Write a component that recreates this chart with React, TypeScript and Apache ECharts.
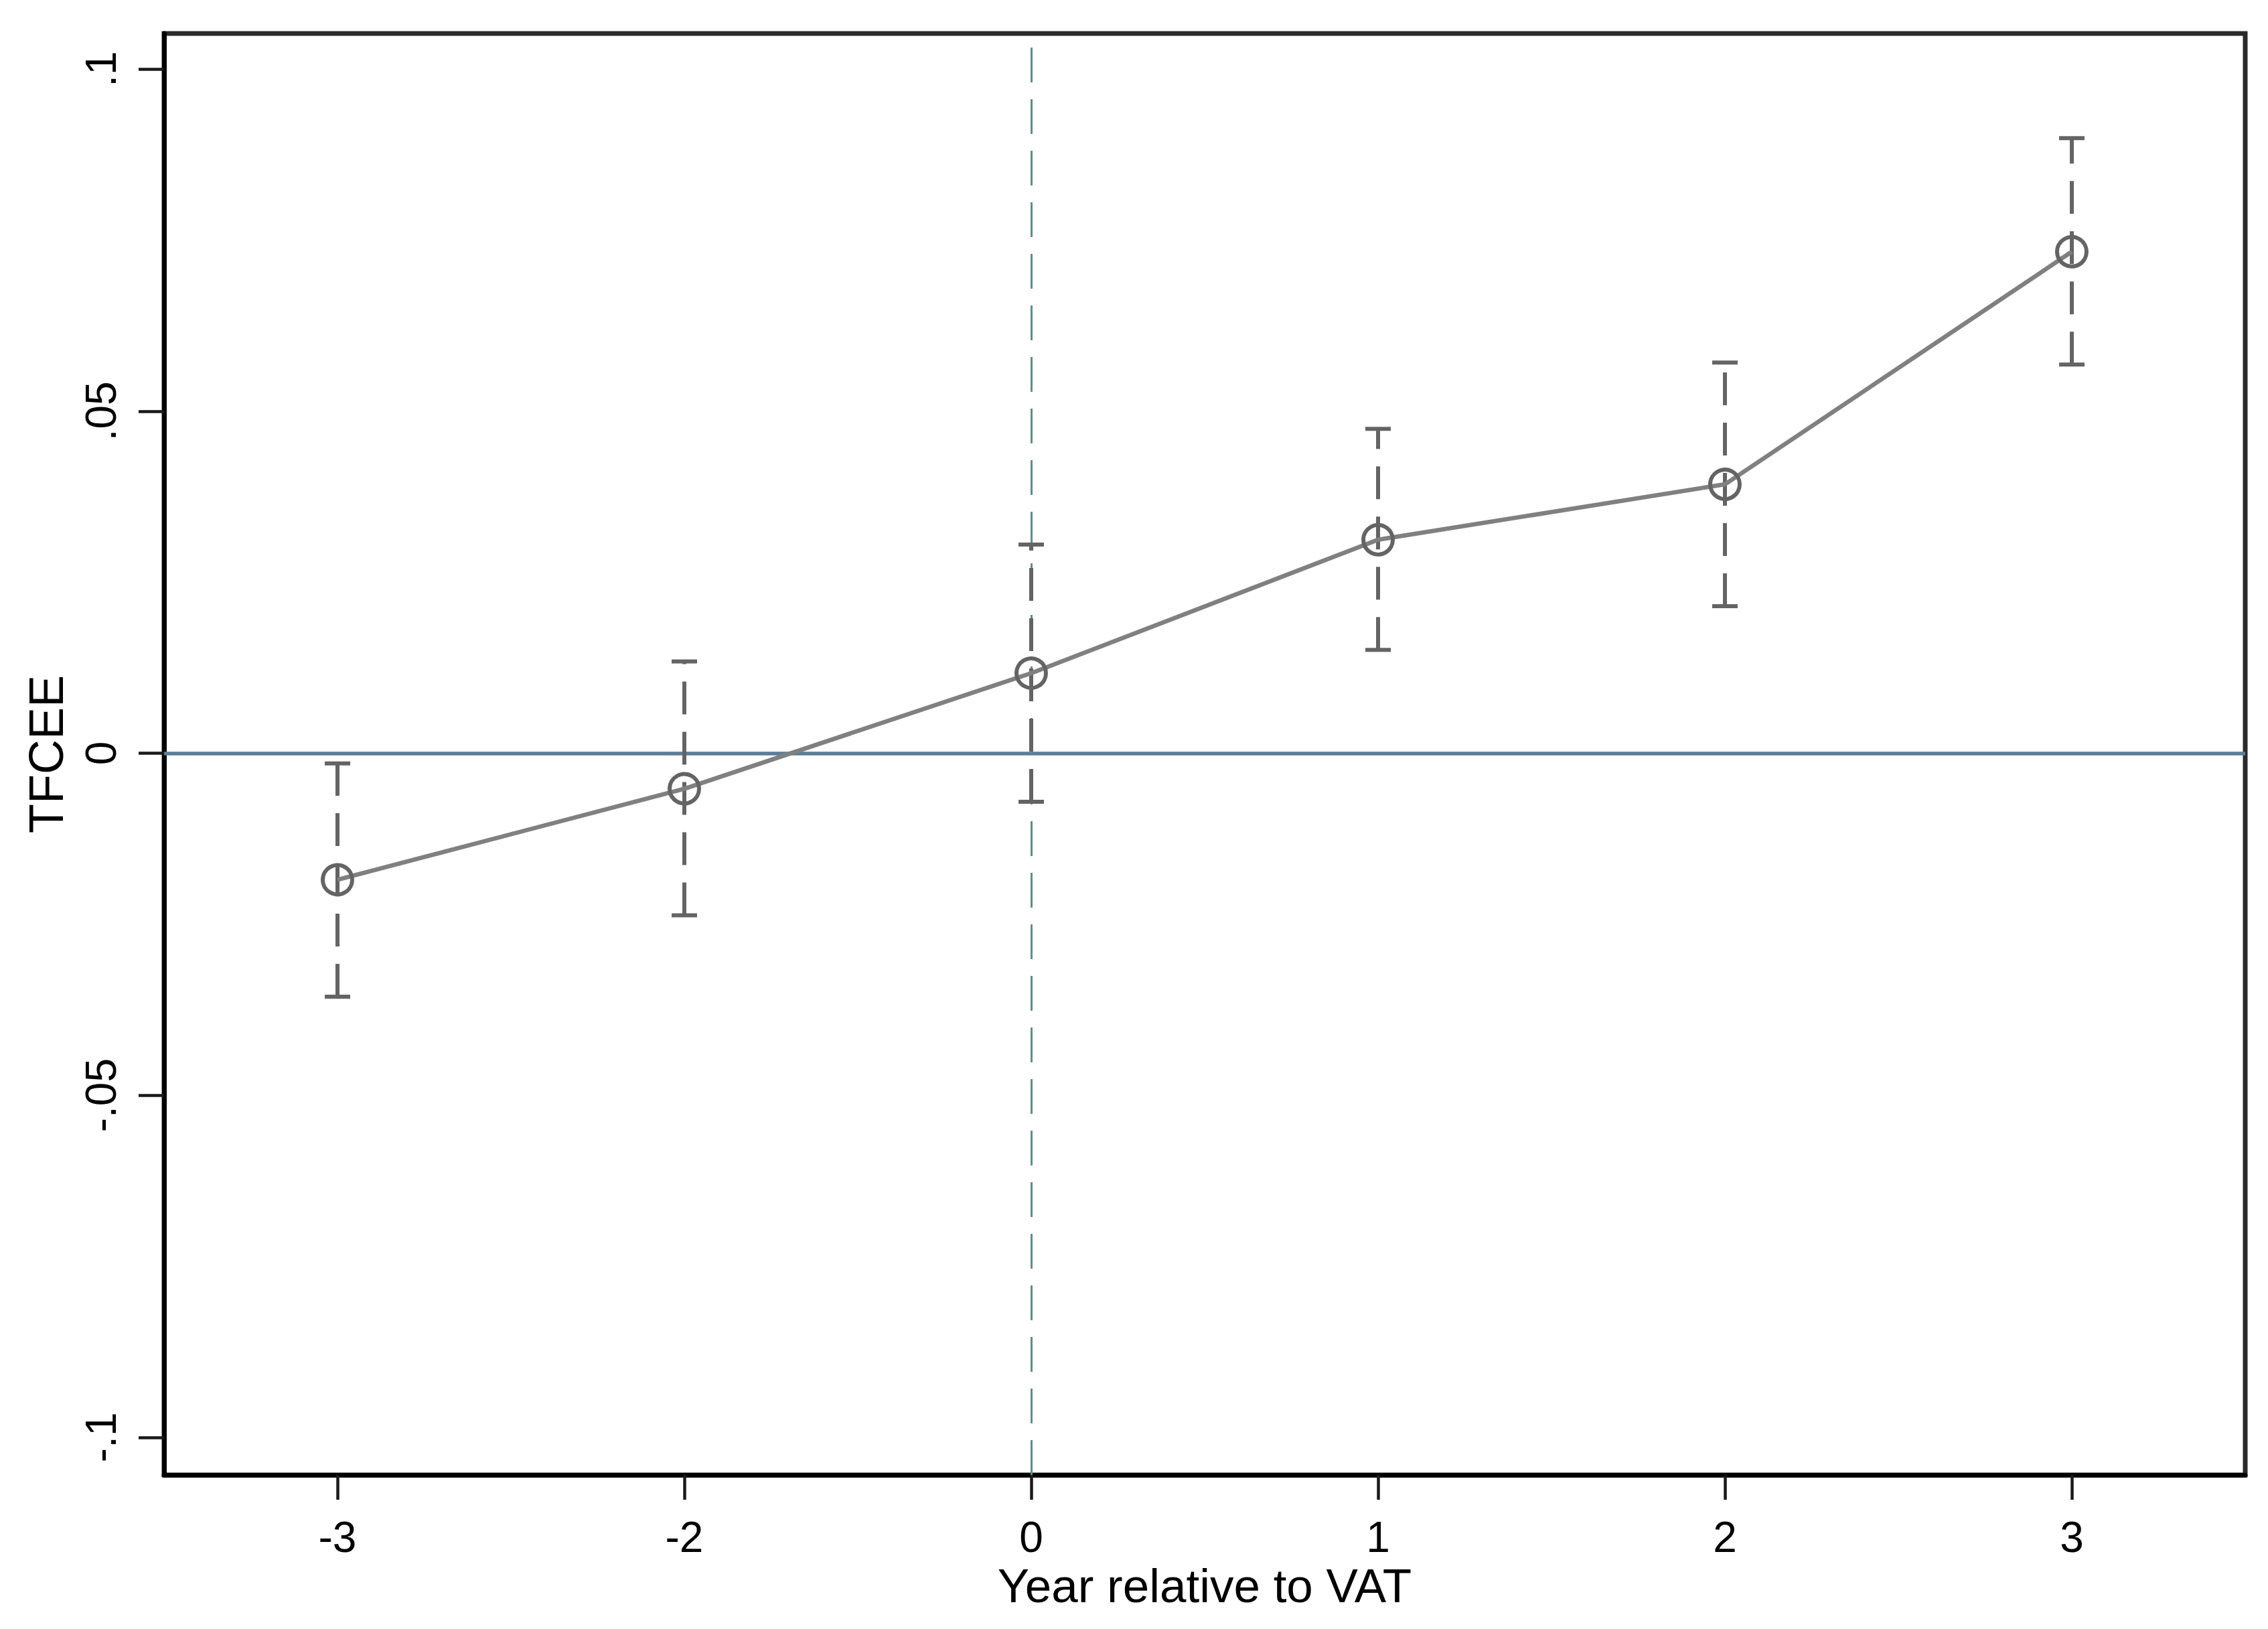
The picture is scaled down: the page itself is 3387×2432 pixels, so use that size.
import React, { useEffect, useRef } from "react";
import * as echarts from "echarts";

const categories = ["-3", "-2", "0", "1", "2", "3"];
const estimates = [-0.0185, -0.0052, 0.0117, 0.0312, 0.0393, 0.0733];
const lowerCI = [-0.0356, -0.0237, -0.0071, 0.0151, 0.0215, 0.0568];
const upperCI = [-0.0015, 0.0134, 0.0305, 0.0474, 0.0571, 0.0899];
const yTicks = [-0.1, -0.05, 0, 0.05, 0.1];
const eventCategory = "0";
const xTitle = "Year relative to VAT";
const yTitle = "TFCEE";

const FONT = "'Liberation Sans', Arial, sans-serif";

function fmtStata(v: number): string {
  if (Math.abs(v) < 1e-12) return "0";
  const s = String(+v.toFixed(4));
  return s.replace("0.", ".");
}

export default function App() {
  const ref = useRef<HTMLDivElement>(null);
  useEffect(() => {
    if (!ref.current) return;
    const chart = echarts.init(ref.current, null, { renderer: "svg" });
    const ciData = categories.map((_, i) => [i, lowerCI[i], upperCI[i]]);
    chart.setOption({
      animation: false,
      backgroundColor: "#ffffff",
      grid: {
        left: 245,
        top: 50,
        width: 3108,
        height: 2152,
        show: true,
        borderColor: "#2a2a2a",
        borderWidth: 7,
        backgroundColor: "#ffffff",
      },
      xAxis: {
        type: "category",
        data: categories,
        boundaryGap: true,
        name: xTitle,
        nameLocation: "middle",
        nameGap: 114,
        nameTextStyle: { fontFamily: FONT, fontSize: 71, color: "#000" },
        axisLine: { show: true, onZero: false, lineStyle: { color: "#000", width: 7 } },
        axisTick: {
          show: true,
          alignWithLabel: true,
          length: 37,
          lineStyle: { color: "#1a1a1a", width: 4.5 },
        },
        axisLabel: {
          fontFamily: FONT,
          fontSize: 64,
          color: "#000",
          margin: 61,
        },
        splitLine: { show: false },
      },
      yAxis: {
        type: "value",
        min: -0.1055,
        max: 0.1052,
        name: yTitle,
        nameLocation: "middle",
        nameRotate: 90,
        nameGap: 140,
        nameTextStyle: { fontFamily: FONT, fontSize: 72, color: "#000" },
        axisLine: { show: true, onZero: false, lineStyle: { color: "#000", width: 7 } },
        axisTick: {
          show: true,
          length: 38,
          customValues: yTicks,
          lineStyle: { color: "#1a1a1a", width: 4.5 },
        },
        axisLabel: {
          fontFamily: FONT,
          fontSize: 64,
          color: "#000",
          rotate: 90,
          margin: 62,
          customValues: yTicks,
          formatter: (v: number) => fmtStata(v),
        },
        splitLine: { show: false },
      },
      series: [
        {
          type: "custom",
          z: 2,
          data: ciData,
          renderItem: (params: any, api: any) => {
            const x = api.value(0);
            const lo = api.coord([x, api.value(1)]);
            const hi = api.coord([x, api.value(2)]);
            const half = 19;
            const stroke = "#646464";
            return {
              type: "group",
              children: [
                {
                  type: "line",
                  shape: { x1: lo[0], y1: lo[1], x2: hi[0], y2: hi[1] },
                  style: { stroke, lineWidth: 6, lineDash: [49, 26] },
                },
                {
                  type: "line",
                  shape: { x1: lo[0] - half, y1: lo[1], x2: lo[0] + half, y2: lo[1] },
                  style: { stroke, lineWidth: 6 },
                },
                {
                  type: "line",
                  shape: { x1: hi[0] - half, y1: hi[1], x2: hi[0] + half, y2: hi[1] },
                  style: { stroke, lineWidth: 6 },
                },
              ],
            };
          },
        },
        {
          type: "line",
          z: 3,
          data: estimates,
          symbol: "circle",
          symbolSize: 44,
          lineStyle: { color: "#808080", width: 6.5 },
          itemStyle: {
            color: "rgba(0,0,0,0)",
            borderColor: "#646464",
            borderWidth: 6,
          },
          markLine: {
            silent: true,
            symbol: "none",
            label: { show: false },
            z: 1,
            data: [
              {
                yAxis: 0,
                lineStyle: { color: "#5b7d96", width: 5.5, type: "solid" },
              },
              {
                xAxis: categories.indexOf(eventCategory),
                lineStyle: { color: "#5f8f86", width: 3, type: [52, 25] },
              },
            ],
          },
        },
      ],
    });
    return () => chart.dispose();
  }, []);
  return (
    <div
      ref={ref}
      style={{
        position: "fixed",
        left: 0,
        top: 0,
        width: 3387,
        height: 2432,
        background: "#fff",
      }}
    />
  );
}
